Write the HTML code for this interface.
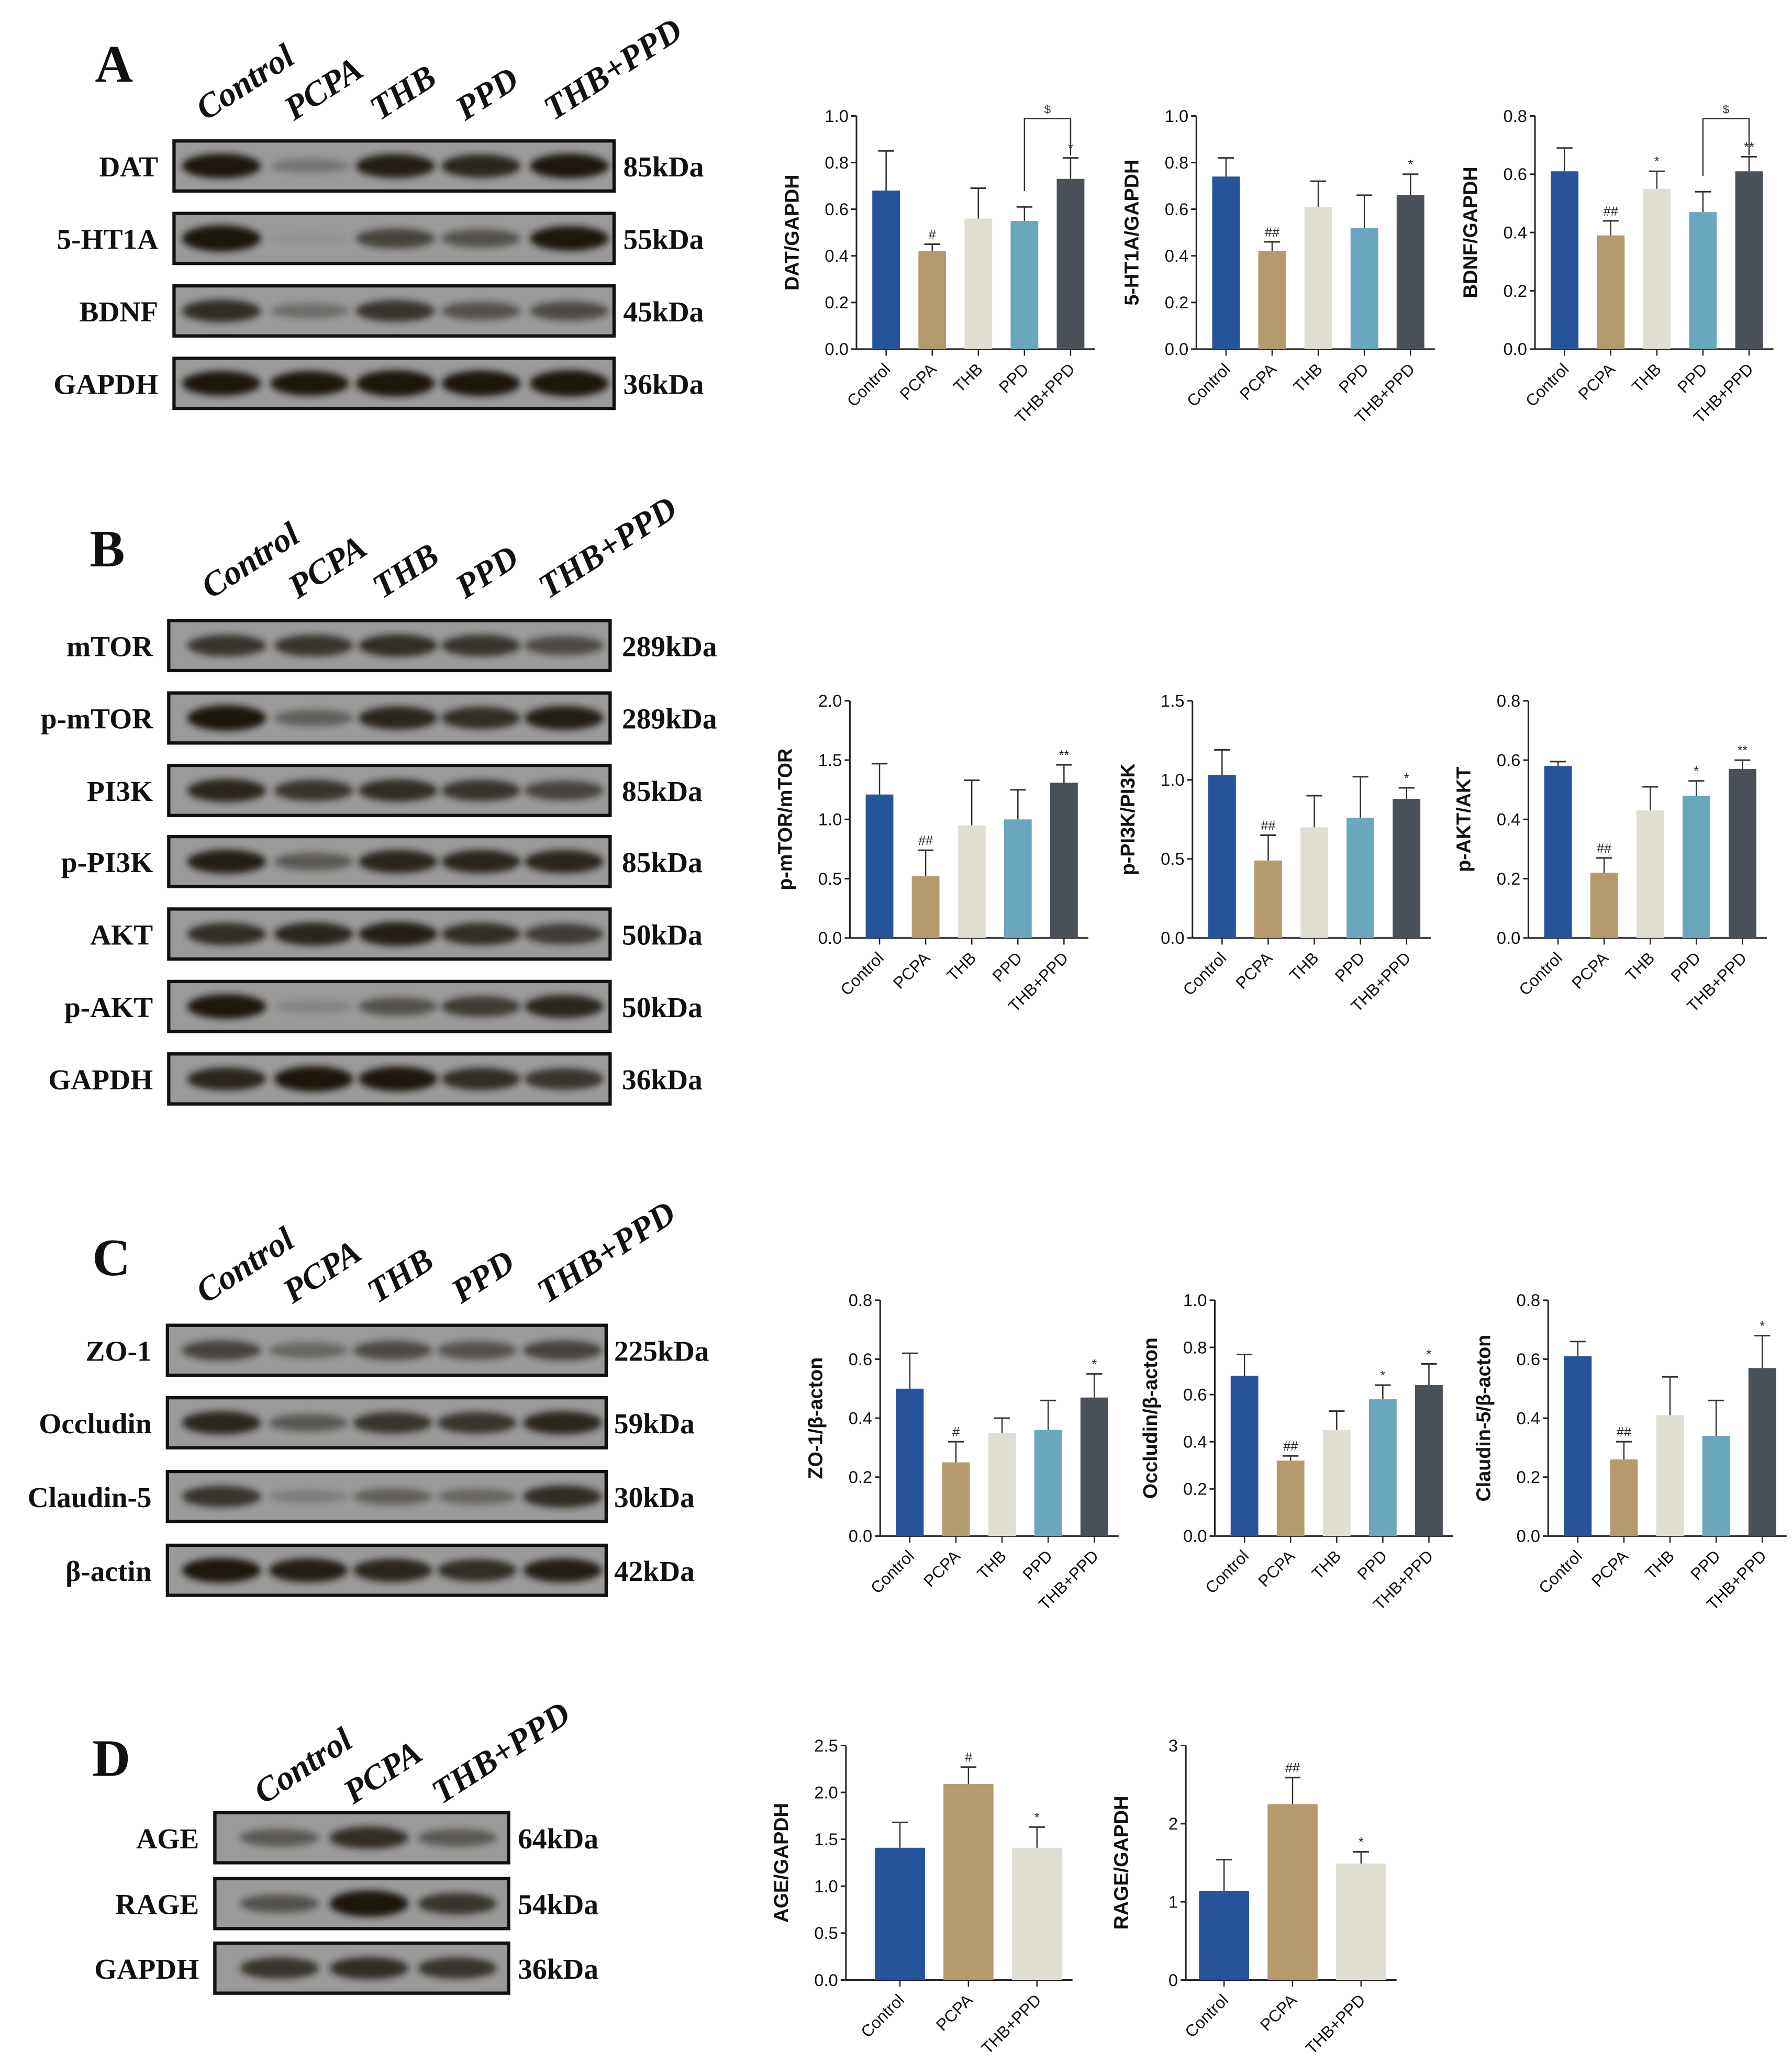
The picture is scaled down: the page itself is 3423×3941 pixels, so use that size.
<!DOCTYPE html>
<html><head><meta charset="utf-8"><style>
body{margin:0;background:#fff}
svg{display:block}
.ser{font-family:"Liberation Serif",serif;font-weight:bold}
.sans{font-family:"Liberation Sans",sans-serif}
</style></head><body>
<svg id="fig" width="3423" height="3941" viewBox="0 0 1360 1566" xmlns="http://www.w3.org/2000/svg">
<defs><filter id="bl" x="-50%" y="-50%" width="200%" height="200%"><feGaussianBlur stdDeviation="2.5"/></filter></defs>
</svg>
<script>
const NS="http://www.w3.org/2000/svg";
const svg=document.getElementById('fig');
function mk(tag,attrs,parent,txt){const e=document.createElementNS(NS,tag);for(const k in attrs)e.setAttribute(k,attrs[k]);if(txt!==undefined)e.textContent=txt;(parent||svg).appendChild(e);return e;}
const colors5=["#26549a","#b39b6e","#e0ddd3","#6aa7bf","#4a5058"];
const colors3=["#26549a","#b39b6e","#e0ddd3"];

// ---- chart data ----
const cats5=["Control","PCPA","THB","PPD","THB+PPD"];
const cats3=["Control","PCPA","THB+PPD"];
const datVals=[0.68,0.42,0.56,0.55,0.73];
const datErr=[0.17,0.03,0.13,0.06,0.09];
const datSig=["","#","","","*"];
const htVals=[0.74,0.42,0.61,0.52,0.66];
const htErr=[0.08,0.04,0.11,0.14,0.09];
const htSig=["","##","","","*"];
const bdnfVals=[0.61,0.39,0.55,0.47,0.61];
const bdnfErr=[0.08,0.05,0.06,0.07,0.05];
const bdnfSig=["","##","*","","**"];
const mtorVals=[1.21,0.52,0.95,1.0,1.31];
const mtorErr=[0.26,0.22,0.38,0.25,0.15];
const mtorSig=["","##","","","**"];
const pi3kVals=[1.03,0.49,0.70,0.76,0.88];
const pi3kErr=[0.16,0.16,0.20,0.26,0.07];
const pi3kSig=["","##","","","*"];
const aktVals=[0.58,0.22,0.43,0.48,0.57];
const aktErr=[0.015,0.05,0.08,0.05,0.03];
const aktSig=["","##","","*","**"];
const zoVals=[0.50,0.25,0.35,0.36,0.47];
const zoErr=[0.12,0.07,0.05,0.10,0.08];
const zoSig=["","#","","","*"];
const occVals=[0.68,0.32,0.45,0.58,0.64];
const occErr=[0.09,0.02,0.08,0.06,0.09];
const occSig=["","##","","*","*"];
const clVals=[0.61,0.26,0.41,0.34,0.57];
const clErr=[0.05,0.06,0.13,0.12,0.11];
const clSig=["","##","","","*"];
const ageVals=[1.41,2.09,1.41];
const ageErr=[0.27,0.18,0.22];
const ageSig=["","#","*"];
const rageVals=[1.14,2.25,1.49];
const rageErr=[0.40,0.34,0.15];
const rageSig=["","##","*"];
const ticks08=["0.0","0.2","0.4","0.6","0.8"];
const ticks10=["0.0","0.2","0.4","0.6","0.8","1.0"];
const ticks20=["0.0","0.5","1.0","1.5","2.0"];
const ticks15=["0.0","0.5","1.0","1.5"];
const ticks25=["0.0","0.5","1.0","1.5","2.0","2.5"];
const ticks3=["0","1","2","3"];

function chart(name,ax,y0,top,ticks,cats,vals,errs,sigs,cols,title,opt){
  opt=opt||{};
  const g=mk('g',{});
  const max=parseFloat(ticks[ticks.length-1]);
  const ys=v=>y0-(v/max)*(y0-top);
  const step=opt.step||35, bw=opt.bw||21, first=opt.first||ax+12+bw/2;
  const xs=i=>first+i*step;
  const xend=xs(cats.length-1)+bw/2+8;
  mk('line',{x1:ax,y1:y0,x2:ax,y2:top,stroke:'#222','stroke-width':1.2,},g);
  mk('line',{x1:ax,y1:y0,x2:xend,y2:y0,stroke:'#222','stroke-width':1.2,},g);
  ticks.forEach(t=>{const y=ys(parseFloat(t));
    mk('line',{x1:ax-4,y1:y,x2:ax,y2:y,stroke:'#222','stroke-width':1.2},g);
    mk('text',{x:ax-6,y:y+4.5,'text-anchor':'end','font-size':13,class:'sans',fill:'#111',},g,t);});
  const tx=ax-44, ty=(y0+top)/2;
  mk('text',{x:tx,y:ty,transform:`rotate(-90 ${tx} ${ty})`,'text-anchor':'middle','font-size':15,'font-weight':'bold',class:'sans',fill:'#111',},g,title);
  cats.forEach((c,i)=>{
    const x=xs(i), yt=ys(vals[i]), ye=ys(vals[i]+errs[i]);
    mk('line',{x1:x,y1:yt,x2:x,y2:ye,stroke:'#333','stroke-width':1},g);
    mk('line',{x1:x-6,y1:ye,x2:x+6,y2:ye,stroke:'#333','stroke-width':1.2},g);
    mk('rect',{x:x-bw/2,y:yt,width:bw,height:y0-yt,fill:cols[i],},g);
    mk('line',{x1:x,y1:y0,x2:x,y2:y0+5,stroke:'#222','stroke-width':1},g);
    if(sigs[i]) mk('text',{x:x,y:ye-4,'text-anchor':'middle','font-size':10,class:'sans',fill:'#222',},g,sigs[i]);
    const lx=x+4, ly=y0+16;
    mk('text',{x:lx,y:ly,transform:`rotate(-45 ${lx} ${ly})`,'text-anchor':'end','font-size':12.5,class:'sans',fill:'#111',},g,c);
  });
  if(opt.bracket){
    const x1=xs(3), x2=xs(4), yb=top+2;
    mk('path',{d:`M${x1} ${ys(vals[3]+errs[3])-12} V${yb} H${x2} V${yb+28}`,fill:'none',stroke:'#333','stroke-width':1,},g);
    mk('text',{x:(x1+x2)/2,y:yb-4,'text-anchor':'middle','font-size':9,class:'sans',fill:'#333'},g,'$');
  }
}
chart('chart-dat',650,265,88,ticks10,cats5,datVals,datErr,datSig,colors5,'DAT/GAPDH',{bracket:true});
chart('chart-5ht1a',908,265,88,ticks10,cats5,htVals,htErr,htSig,colors5,'5-HT1A/GAPDH');
chart('chart-bdnf',1165,265,88,ticks08,cats5,bdnfVals,bdnfErr,bdnfSig,colors5,'BDNF/GAPDH',{bracket:true});
chart('chart-pmtor',645,712,532,ticks20,cats5,mtorVals,mtorErr,mtorSig,colors5,'p-mTOR/mTOR');
chart('chart-ppi3k',905,712,532,ticks15,cats5,pi3kVals,pi3kErr,pi3kSig,colors5,'p-PI3K/PI3K');
chart('chart-pakt',1160,712,532,ticks08,cats5,aktVals,aktErr,aktSig,colors5,'p-AKT/AKT');
chart('chart-zo1',668,1166,987,ticks08,cats5,zoVals,zoErr,zoSig,colors5,'ZO-1/β-acton');
chart('chart-occludin',922,1166,987,ticks10,cats5,occVals,occErr,occSig,colors5,'Occludin/β-acton');
chart('chart-claudin5',1175,1166,987,ticks08,cats5,clVals,clErr,clSig,colors5,'Claudin-5/β-acton');
chart('chart-age',642,1503,1325,ticks25,cats3,ageVals,ageErr,ageSig,colors3,'AGE/GAPDH',{step:52,bw:38,first:683});
chart('chart-rage',900,1503,1325,ticks3,cats3,rageVals,rageErr,rageSig,colors3,'RAGE/GAPDH',{step:52,bw:38,first:929});

// ---- western blots ----
function blot(name,letter,lx,ly,lanes,lanesY,x1,x2,rows,kx){
  const g=mk('g',{});
  mk('text',{x:lx,y:ly,'font-size':40,class:'ser',fill:'#111',},g,letter);
  lanes.forEach(l=>{const x=l[1]-12,y=lanesY;
    mk('text',{x:x,y:y,transform:`rotate(-33 ${x} ${y})`,'font-size':26,'font-style':'italic',class:'ser',fill:'#111',},g,l[0]);});
  rows.forEach(r=>{
    const [lab,cy,kda,ints]=r;
    const rg=mk('g',{},g);
    mk('rect',{x:x1,y:cy-19,width:x2-x1,height:38,fill:'#9a9a9a',stroke:'#111','stroke-width':2.5},rg);
    lanes.forEach((l,i)=>{const a=ints[i];
      mk('ellipse',{cx:l[1],cy:cy,rx:30,ry:4+6*a,fill:'#1a1311',opacity:Math.min(1,a*1.1),filter:'url(#bl)'},rg);});
    mk('text',{x:x1-12,y:cy+8,'text-anchor':'end','font-size':22,class:'ser',fill:'#111',},rg,lab);
    mk('text',{x:kx,y:cy+8,'font-size':22,class:'ser',fill:'#111',},rg,kda);
  });
}
const lanesA=[["Control",168],["PCPA",235],["THB",300],["PPD",365],["THB+PPD",432]];
blot('blot-a','A',72,62,lanesA,92,132,466,[
 ["DAT",126,"85kDa",[0.9,0.25,0.85,0.8,0.9]],["5-HT1A",181,"55kDa",[1,0.05,0.6,0.5,0.9]],
 ["BDNF",236,"45kDa",[0.75,0.3,0.7,0.5,0.55]],["GAPDH",291,"36kDa",[0.9,0.9,1,0.95,1]]],473);
const lanesB=[["Control",172],["PCPA",238],["THB",302],["PPD",365],["THB+PPD",428]];
blot('blot-b','B',68,430,lanesB,455,128,463,[
 ["mTOR",490,"289kDa",[0.7,0.7,0.75,0.7,0.55]],["p-mTOR",545,"289kDa",[0.95,0.4,0.8,0.75,0.85]],
 ["PI3K",600,"85kDa",[0.8,0.7,0.75,0.7,0.6]],["p-PI3K",654,"85kDa",[0.85,0.45,0.8,0.8,0.8]],
 ["AKT",709,"50kDa",[0.75,0.8,0.85,0.75,0.65]],["p-AKT",764,"50kDa",[0.9,0.15,0.5,0.65,0.8]],
 ["GAPDH",819,"36kDa",[0.8,0.95,0.9,0.75,0.7]]],472);
const lanesC=[["Control",168],["PCPA",234],["THB",298],["PPD",362],["THB+PPD",427]];
blot('blot-c','C',70,968,lanesC,990,127,460,[
 ["ZO-1",1025,"225kDa",[0.6,0.35,0.55,0.5,0.6]],["Occludin",1080,"59kDa",[0.8,0.45,0.7,0.7,0.8]],
 ["Claudin-5",1136,"30kDa",[0.7,0.2,0.4,0.35,0.75]],["β-actin",1192,"42kDa",[0.9,0.85,0.8,0.75,0.85]]],466);
const lanesD=[["Control",212],["PCPA",280],["THB+PPD",347]];
blot('blot-d','D',70,1348,lanesD,1370,163,386,[
 ["AGE",1395,"64kDa",[0.45,0.75,0.45]],["RAGE",1445,"54kDa",[0.5,1,0.7]],["GAPDH",1494,"36kDa",[0.7,0.75,0.7]]],393);
</script>
</body></html>
